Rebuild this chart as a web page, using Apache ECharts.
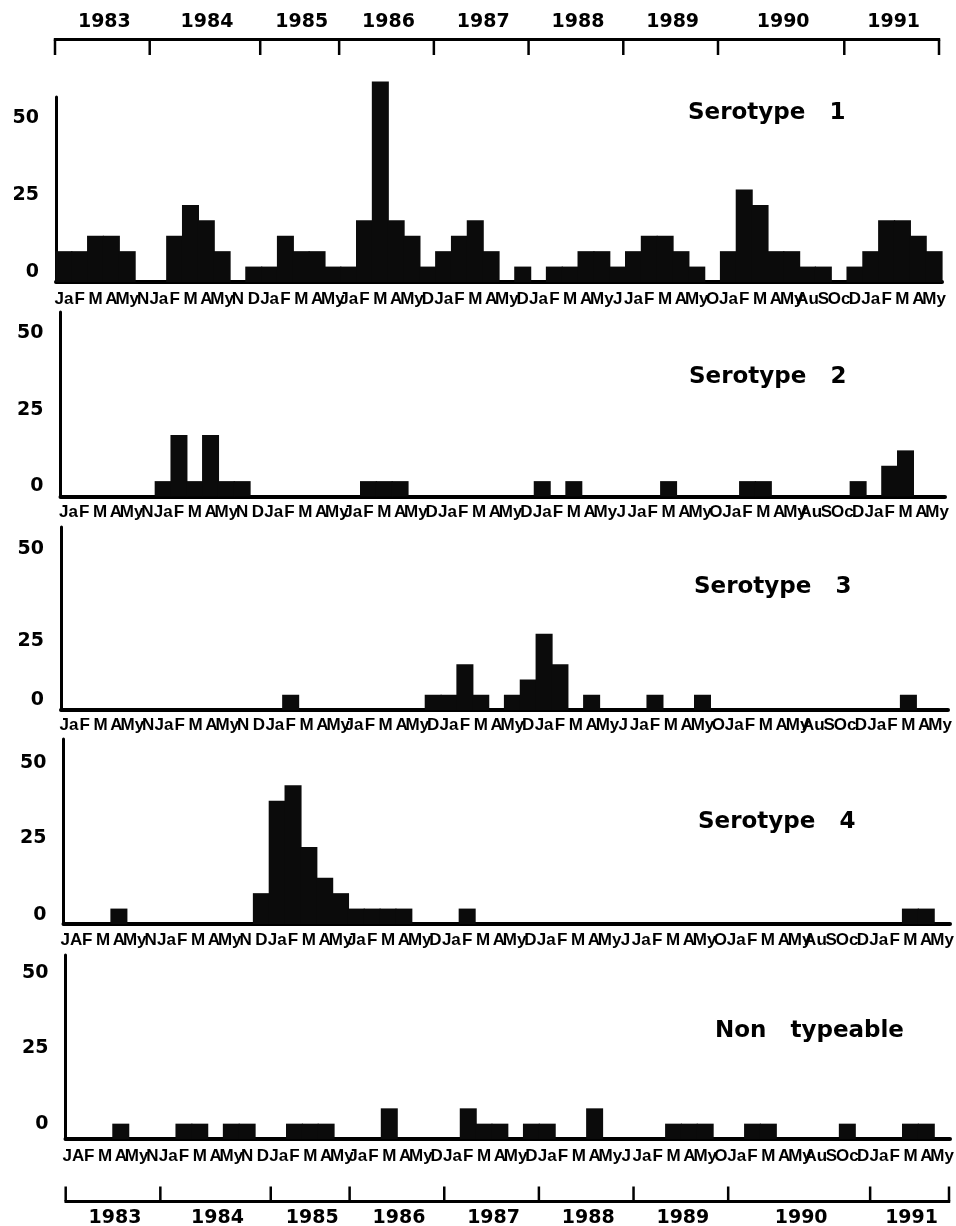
<!DOCTYPE html>
<html><head><meta charset="utf-8">
<script src="https://cdn.jsdelivr.net/npm/echarts@6/dist/echarts.min.js"></script>
<style>html,body{margin:0;padding:0;background:#fff}#c{width:956px;height:1226px}</style>
</head><body><div id="c"></div>
<script>
// ---- data ----
const monthsA = ['Ja','F','M','A','My','N', 'Ja','F','M','A','My','N','D', 'Ja','F','M','A','My',
  'Ja','F','M','A','My','D', 'Ja','F','M','A','My','D', 'Ja','F','M','A','My','J',
  'Ja','F','M','A','My','O', 'Ja','F','M','A','My','Au','S','Oc','D', 'Ja','F','M','A','My'];
const monthsB = ['JA','F','M','A','My','N', 'Ja','F','M','A','My','N','D', 'Ja','F','M','A','My',
  'Ja','F','M','A','My','D', 'Ja','F','M','A','My','D', 'Ja','F','M','A','My','J',
  'Ja','F','M','A','My','O', 'Ja','F','M','A','My','Au','S','Oc','D', 'Ja','F','M','A','My'];

const serotype1 = [10,10,15,15,10,0, 0,15,25,20,10,0,5, 5,15,10,10,5, 5,20,65,20,15,5,
  10,15,20,10,0,5, 0,5,5,10,10,5, 10,15,15,10,5,0, 10,30,25,10,10,5,5,0,5, 10,20,20,15,10];
const serotype2 = [0,0,0,0,0,0, 5,20,5,20,5,5,0, 0,0,0,0,0, 0,5,5,5,0,0,
  0,0,0,0,0,0, 5,0,5,0,0,0, 0,0,5,0,0,0, 0,5,5,0,0,0,0,0,5, 0,10,15,0,0];
const serotype3 = [0,0,0,0,0,0, 0,0,0,0,0,0,0, 0,5,0,0,0, 0,0,0,0,0,5,
  5,15,5,0,5,10, 25,15,0,5,0,0, 0,5,0,0,5,0, 0,0,0,0,0,0,0,0,0, 0,0,5,0,0];
const serotype4 = [0,0,0,5,0,0, 0,0,0,0,0,0,10, 40,45,25,15,10, 5,5,5,5,0,0,
  0,5,0,0,0,0, 0,0,0,0,0,0, 0,0,0,0,0,0, 0,0,0,0,0,0,0,0,0, 0,0,5,5,0];
const nonTypeable = [0,0,0,5,0,0, 0,5,5,0,5,5,0, 0,5,5,5,0, 0,0,10,0,0,0,
  0,10,5,5,0,5, 5,0,0,10,0,0, 0,0,5,5,5,0, 0,5,5,0,0,0,0,5,0, 0,0,5,5,0];

const panelNames = ['Serotype   1','Serotype   2','Serotype   3','Serotype   4','Non   typeable'];
const yearNames = ['1983','1984','1985','1986','1987','1988','1989','1990','1991'];
const yearTicksTop = [0,6,13,18,24,30,36,42,50,56];
const yearTicksBottom = [0,6,13,18,24,30,36,42,51,56];
const yMin = 0, yMax = 60, yInterval = 25;

// ---- layout / style ----
const panels = [
  {data: serotype1, months: monthsA, L: 56,   R: 942, T: 97,  Z: 282,  off: {0:10, 25:10, 50:10}, lm: 9, tx: 688, ty: 113},
  {data: serotype2, months: monthsA, L: 60.5, R: 945, T: 312, Z: 496.5,off: {0:10, 25:9.5, 50:9.5}, lm: 7, tx: 689, ty: 377},
  {data: serotype3, months: monthsA, L: 61,   R: 948, T: 527, Z: 710,  off: {0:10, 25:-7, 50:8},  lm: 7, tx: 694, ty: 587},
  {data: serotype4, months: monthsB, L: 63.5, R: 950, T: 739, Z: 924,  off: {0:9, 25:9, 50:7},    lm: 8, tx: 698, ty: 822},
  {data: nonTypeable, months: monthsB, L: 65.5, R: 950, T: 955, Z: 1139, off: {0:15, 25:14, 50:13}, lm: 9, tx: 715, ty: 1031}
];
const BOLD = 'DejaVu Sans';
const MONTHFONT = "'Liberation Sans',Arial,sans-serif";
const BAR = '#0b0b0b';

const grid = [], xAxis = [], yAxis = [], series = [], graphic = [];
panels.forEach((p, i) => {
  grid.push({left: p.L, top: p.T, width: p.R - p.L, height: p.Z - p.T, containLabel: false, outerBoundsMode: 'none'});
  xAxis.push({
    type: 'category', gridIndex: i, data: p.months, boundaryGap: true,
    axisLine: {show: true, onZero: true, lineStyle: {color: '#000', width: 4}},
    axisTick: {show: false}, splitLine: {show: false},
    axisLabel: {show: true, interval: 0, margin: p.lm, color: '#000', fontFamily: MONTHFONT, fontWeight: 'bold', fontSize: 17, hideOverlap: false}
  });
  const rich = {};
  [0, 25, 50].forEach(v => {
    const o = p.off[v];
    rich['o' + v] = {fontFamily: BOLD, fontWeight: 'bold', fontSize: 19, color: '#000',
      padding: o >= 0 ? [0, 0, 2 * o, 0] : [-2 * o, 0, 0, 0]};
  });
  yAxis.push({
    type: 'value', gridIndex: i, min: yMin, max: yMax, interval: yInterval,
    axisLine: {show: true, lineStyle: {color: '#000', width: 3}},
    axisTick: {show: false}, splitLine: {show: false},
    axisLabel: {show: true, margin: 17, showMaxLabel: false, color: '#000', fontFamily: BOLD, fontWeight: 'bold', fontSize: 19,
      formatter: v => (v === 0 || v === 25 || v === 50) ? '{o' + v + '|' + v + '}' : '', rich: rich}
  });
  series.push({
    type: 'bar', xAxisIndex: i, yAxisIndex: i, data: p.data,
    barWidth: (p.R - p.L) / p.months.length + 1.2, barGap: '-100%',
    clip: false, itemStyle: {color: BAR}, silent: true, animation: false
  });
  graphic.push({type: 'text', x: p.tx, y: p.ty, silent: true,
    style: {text: panelNames[i], fill: '#000', fontFamily: BOLD, fontWeight: 'bold', fontSize: 23, align: 'left', verticalAlign: 'middle'}});
});

// year axes (top and bottom) as extra grids with value scale 0..56
function yearAxis(gi, ticks, L, R, top, h, isTop) {
  grid.push({left: L, top: top, width: R - L, height: h, containLabel: false, outerBoundsMode: 'none'});
  xAxis.push({type: 'value', gridIndex: gi, min: 0, max: 56, show: false});
  yAxis.push({type: 'value', gridIndex: gi, min: 0, max: 1, show: false});
  series.push({
    type: 'custom', xAxisIndex: gi, yAxisIndex: gi, animation: false, silent: true, clip: false,
    data: ticks.map(t => [t]),
    renderItem: function (params, api) {
      const idx = params.dataIndex;
      const b = api.value(0);
      const lineY = isTop ? 1 : 0, farY = isTop ? 0 : 1;
      const p1 = api.coord([b, lineY]), p2 = api.coord([b, farY]);
      const children = [{type: 'line', shape: {x1: p1[0], y1: p1[1], x2: p2[0], y2: p2[1]},
        style: {stroke: '#000', lineWidth: 2.5}}];
      if (idx < ticks.length - 1) {
        const nb = ticks[idx + 1];
        const q = api.coord([nb, lineY]);
        children.push({type: 'line', shape: {x1: p1[0] - 1.2, y1: p1[1], x2: q[0] + 1.2, y2: q[1]},
          style: {stroke: '#000', lineWidth: 3}});
        const mid = api.coord([(b + nb) / 2, lineY]);
        children.push({type: 'text', x: mid[0] + 2, y: mid[1] + (isTop ? -17.5 : 17),
          style: {text: yearNames[idx], fill: '#000', fontFamily: BOLD, fontWeight: 'bold', fontSize: 19,
            align: 'center', verticalAlign: 'middle'}});
      }
      return {type: 'group', children: children};
    }
  });
}
yearAxis(5, yearTicksTop, 55, 939, 39.5, 15.5, true);
yearAxis(6, yearTicksBottom, 65.7, 949, 1186.5, 15, false);

const chart = echarts.init(document.getElementById('c'), null, {renderer: 'canvas'});
chart.setOption({animation: false, backgroundColor: '#fff', grid, xAxis, yAxis, series, graphic});
</script></body></html>
